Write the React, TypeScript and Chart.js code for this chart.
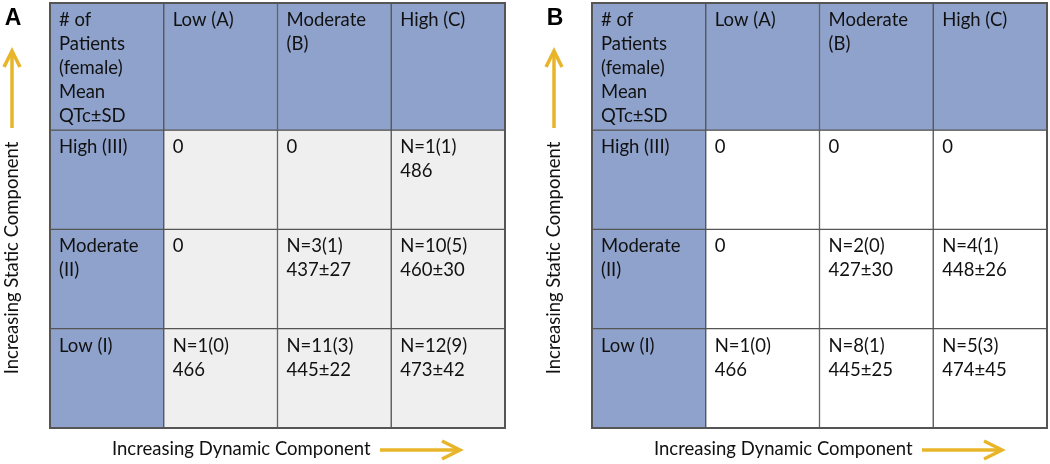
import React, { useEffect, useRef } from "react";
import { Chart, registerables } from "chart.js";

Chart.register(...registerables);

// ---- data ----
const columnLabels = ["Low (A)", "Moderate\n(B)", "High (C)"];
const rowLabels = ["High (III)", "Moderate\n(II)", "Low (I)"];
const cornerLabel = "# of\nPatients\n(female)\nMean\nQTc±SD";

// rows: High (III), Moderate (II), Low (I); columns: Low (A), Moderate (B), High (C)
const patientsA = [[0, 0, 1], [0, 3, 10], [1, 11, 12]];
const femaleA = [[0, 0, 1], [0, 1, 5], [0, 3, 9]];
const meanA = [[0, 0, 486], [0, 437, 460], [466, 445, 473]];
const sdA = [[null, null, null], [null, 27, 30], [null, 22, 42]];

const patientsB = [[0, 0, 0], [0, 2, 4], [1, 8, 5]];
const femaleB = [[0, 0, 0], [0, 0, 1], [0, 1, 3]];
const meanB = [[0, 0, 0], [0, 427, 448], [466, 445, 474]];
const sdB = [[null, null, null], [null, 30, 26], [null, 25, 45]];

const xTitle = "Increasing Dynamic Component";
const yTitle = "Increasing Static Component";

// ---- style ----
const BLUE = "#8fa2cc";
const LINE = "#555555";
const GOLD = "#e8b52a";
const FONT = "Lato, 'Open Sans', sans-serif";
const FONT_SIZE = 18.5;
const HEADER_H = 1.28;

function cellText(n: number, f: number, m: number, s: number | null) {
  if (n === 0) return "0";
  return `N=${n}(${f})\n${s == null ? m : `${m}±${s}`}`;
}

function buildTexts(p: number[][], f: number[][], m: number[][], s: (number | null)[][]) {
  const rows: string[][] = [[cornerLabel, ...columnLabels]];
  for (let r = 0; r < 3; r++) {
    const row = [rowLabels[r]];
    for (let c = 0; c < 3; c++) row.push(cellText(p[r][c], f[r][c], m[r][c], s[r][c]));
    rows.push(row);
  }
  return rows;
}

function rowBounds(r: number): [number, number] {
  // r=0 header at top, then High, Moderate, Low
  if (r === 0) return [3, 3 + HEADER_H];
  const lo = 3 - r;
  return [lo, lo + 1];
}

type Panel = {
  letter: string;
  texts: string[][];
  bg: string;
  padLeft: number;
  padRight: number;
};

function makeChart(canvas: HTMLCanvasElement, panel: Panel) {
  const datasets = [0, 1, 2, 3].map((r) => ({
    label: `row${r}`,
    data: [0, 1, 2, 3].map(() => rowBounds(r)),
    backgroundColor: [0, 1, 2, 3].map((c) => (r === 0 || c === 0 ? BLUE : panel.bg)),
    borderColor: LINE,
    borderWidth: 1,
    borderSkipped: false as any,
    grouped: false,
    categoryPercentage: 1,
    barPercentage: 1,
  }));

  const textPlugin = {
    id: "cellText",
    afterDatasetsDraw(chart: any) {
      const ctx = chart.ctx as CanvasRenderingContext2D;
      const ca = chart.chartArea;
      ctx.save();
      // outer border
      ctx.strokeStyle = LINE;
      ctx.lineWidth = 2;
      ctx.strokeRect(ca.left, ca.top, ca.right - ca.left, ca.bottom - ca.top);

      ctx.fillStyle = "#111";
      ctx.font = `${FONT_SIZE}px ${FONT}`;
      ctx.textAlign = "left";
      ctx.textBaseline = "alphabetic";
      for (let r = 0; r < 4; r++) {
        const meta = chart.getDatasetMeta(r);
        for (let c = 0; c < 4; c++) {
          const el = meta.data[c] as any;
          const left = el.x - el.width / 2;
          const top = Math.min(el.y, el.base);
          const lines = panel.texts[r][c].split("\n");
          lines.forEach((ln, i) => ctx.fillText(ln, left + 9, top + 23 + i * 24));
        }
      }

      // panel letter
      ctx.font = `bold 23px 'Liberation Sans', Arial, sans-serif`;
      ctx.textAlign = "center";
      ctx.fillStyle = "#000";
      ctx.fillText(panel.letter, ca.left - 37, 25);

      // x title
      ctx.font = `${FONT_SIZE}px ${FONT}`;
      ctx.textAlign = "left";
      ctx.fillStyle = "#111";
      ctx.fillText(xTitle, ca.left + 62, 455);

      // y title
      ctx.save();
      ctx.translate(ca.left - 32, 258);
      ctx.rotate(-Math.PI / 2);
      ctx.textAlign = "center";
      ctx.fillText(yTitle, 0, 0);
      ctx.restore();

      // arrows
      ctx.strokeStyle = GOLD;
      ctx.lineWidth = 3.5;
      ctx.lineCap = "butt";
      // horizontal
      const hx0 = ca.left + 330, hx1 = ca.left + 410, hy = 450;
      ctx.beginPath();
      ctx.moveTo(hx0, hy);
      ctx.lineTo(hx1 - 2, hy);
      ctx.stroke();
      ctx.beginPath();
      ctx.moveTo(hx1 - 18, hy - 9);
      ctx.lineTo(hx1, hy);
      ctx.lineTo(hx1 - 18, hy + 9);
      ctx.stroke();
      // vertical
      const vx = ca.left - 38, vy0 = 128, vy1 = 51;
      ctx.beginPath();
      ctx.moveTo(vx, vy0);
      ctx.lineTo(vx, vy1 + 2);
      ctx.stroke();
      ctx.beginPath();
      ctx.moveTo(vx - 8, vy1 + 16);
      ctx.lineTo(vx, vy1);
      ctx.lineTo(vx + 8, vy1 + 16);
      ctx.stroke();
      ctx.restore();
    },
  };

  return new Chart(canvas, {
    type: "bar",
    data: { labels: ["", "A", "B", "C"], datasets: datasets as any },
    options: {
      responsive: false,
      maintainAspectRatio: false,
      animation: false,
      events: [],
      layout: { padding: { left: panel.padLeft, right: panel.padRight, top: 3, bottom: 36 } },
      plugins: { legend: { display: false }, tooltip: { enabled: false } },
      scales: {
        x: { type: "category", display: false, offset: true },
        y: { type: "linear", display: false, min: 0, max: 3 + HEADER_H },
      },
    },
    plugins: [textPlugin],
  });
}

export default function App() {
  const refA = useRef<HTMLCanvasElement>(null);
  const refB = useRef<HTMLCanvasElement>(null);

  useEffect(() => {
    document.body.style.margin = "0";
    const a = makeChart(refA.current!, {
      letter: "A",
      texts: buildTexts(patientsA, femaleA, meanA, sdA),
      bg: "#efefef",
      padLeft: 50,
      padRight: 20,
    });
    const b = makeChart(refB.current!, {
      letter: "B",
      texts: buildTexts(patientsB, femaleB, meanB, sdB),
      bg: "#ffffff",
      padLeft: 67,
      padRight: 3,
    });
    return () => {
      a.destroy();
      b.destroy();
    };
  }, []);

  return (
    <div style={{ position: "relative", width: 1050, height: 464, background: "#fff" }}>
      <canvas ref={refA} width={525} height={464} style={{ position: "absolute", left: 0, top: 0, width: 525, height: 464 }} />
      <canvas ref={refB} width={525} height={464} style={{ position: "absolute", left: 525, top: 0, width: 525, height: 464 }} />
    </div>
  );
}
